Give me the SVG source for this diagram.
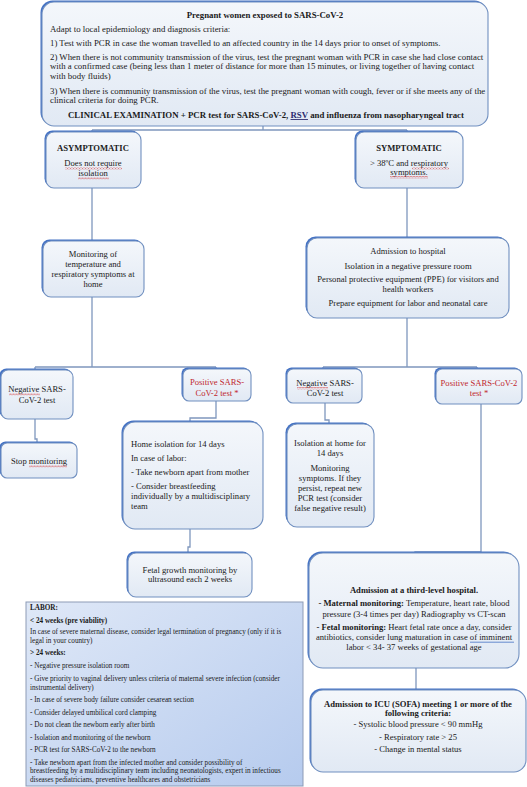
<svg xmlns="http://www.w3.org/2000/svg" width="527" height="787" viewBox="0 0 527 787">
<defs>
<linearGradient id="g" x1="0" y1="0" x2="0" y2="1"><stop offset="0" stop-color="#f4f7fb"/><stop offset="1" stop-color="#e1e9f4"/></linearGradient>
<linearGradient id="lab" x1="0" y1="0" x2="1" y2="1"><stop offset="0" stop-color="#dfe8f7"/><stop offset="1" stop-color="#b6cbee"/></linearGradient>
<pattern id="wavy" width="3" height="2.4" patternUnits="userSpaceOnUse"><path d="M0 2 L1.5 0.4 L3 2" fill="none" stroke="#d02020" stroke-width="0.6"/></pattern>
<style>
.sh{fill:#4472c4}
.box{fill:url(#g);stroke:#7190c0;stroke-width:1.1}
.lab{fill:url(#lab);stroke:#8d9bb6;stroke-width:1}
.con{fill:none;stroke:#7f97bd;stroke-width:1.3}
text{font-family:"Liberation Serif","Times New Roman",serif;fill:#1a1a1a;font-size:8.6px}
.c{text-anchor:middle}
.b{font-weight:bold}
.r{fill:#c0272d}
.t{font-size:8.8px}
.s{font-size:7.2px}
.w{fill:url(#wavy)}
</style>
</defs>
<g id="connectors">
<path class="con" d="M263 126V130M92 130H407M92 130V132M407 130V132"/>
<path class="con" d="M92 188V241M407 188V238"/>
<path class="con" d="M92 297V367M35 367H216M35 367V370M216 367V369"/>
<path class="con" d="M407 318V367M323 367H477M323 367V369M477 367V369"/>
<path class="con" d="M35 419V439H37V443"/>
<path class="con" d="M216 401V418H190V422"/>
<path class="con" d="M325 403V420H329V424"/>
<path class="con" d="M481 404V552H415V553"/>
<path class="con" d="M190 529V547H188V553"/>
<path class="con" d="M416 668V690"/>
</g>
<g id="top">
<rect class="sh" x="40.5" y="0.5" width="446" height="124" rx="12"/>
<rect class="box" x="42" y="2" width="446" height="124" rx="12"/>
<text class="t b c" x="265" y="18">Pregnant women exposed to SARS-CoV-2</text>
<text class="t" x="50" y="32">Adapt to local epidemiology and diagnosis criteria:</text>
<text class="t" x="50" y="46">1) Test with PCR in case the woman travelled to an affected country in the 14 days prior to onset of symptoms.</text>
<text class="t" x="50" y="60">2) When there is not community transmission of the virus, test the pregnant woman with PCR in case she had close contact</text>
<text class="t" x="50" y="69">with a confirmed case (being less than 1 meter of distance for more than 15 minutes, or living together of having contact</text>
<text class="t" x="50" y="79">with body fluids)</text>
<text class="t" x="50" y="94">3) When there is community transmission of the virus, test the pregnant woman with cough, fever or if she meets any of the</text>
<text class="t" x="50" y="103">clinical criteria for doing PCR.</text>
<text class="t b c" x="266" y="118">CLINICAL EXAMINATION + PCR test for SARS-CoV-2, <tspan fill="#2b2b6e" style="text-decoration:underline">RSV</tspan> and influenza from nasopharyngeal tract</text>
</g>
<g id="asymptomatic">
<rect class="sh" x="44.5" y="130.5" width="95" height="56" rx="8"/>
<rect class="box" x="46" y="132" width="95" height="56" rx="8"/>
<text class="b c" x="93" y="151">ASYMPTOMATIC</text>
<text class="c" x="93" y="166">Does not require</text>
<text class="c" x="93" y="176">isolation</text>
<rect class="w" x="65" y="167" width="57" height="2.4"/>
<rect class="w" x="78" y="177" width="31" height="2.4"/>
</g>
<g id="symptomatic">
<rect class="sh" x="354.5" y="130.5" width="107" height="56" rx="8"/>
<rect class="box" x="356" y="132" width="107" height="56" rx="8"/>
<text class="b c" x="409" y="151">SYMPTOMATIC</text>
<text class="c" x="409" y="166">&gt; 38ºC and respiratory</text>
<text class="c" x="409" y="175">symptoms.</text>
<rect class="w" x="412" y="167" width="37" height="2.4"/>
<rect class="w" x="390" y="176" width="38" height="2.4"/>
</g>
<g id="monitoring">
<rect class="sh" x="41.5" y="239.5" width="101" height="56" rx="8"/>
<rect class="box" x="43" y="241" width="101" height="56" rx="8"/>
<text class="c" x="93" y="257">Monitoring of</text>
<text class="c" x="93" y="267">temperature and</text>
<text class="c" x="93" y="277">respiratory symptoms at</text>
<text class="c" x="93" y="287">home</text>
</g>
<g id="admission">
<rect class="sh" x="305.5" y="236.5" width="202" height="80" rx="10"/>
<rect class="box" x="307" y="238" width="202" height="80" rx="10"/>
<text class="c" x="408" y="254">Admission to hospital</text>
<text class="c" x="408" y="269">Isolation in a negative pressure room</text>
<text class="c" x="408" y="282">Personal protective equipment (PPE) for visitors and</text>
<text class="c" x="408" y="292">health workers</text>
<text class="c" x="408" y="306">Prepare equipment for labor and neonatal care</text>
</g>
<g id="neg-left">
<rect class="sh" x="-0.5" y="368.5" width="72" height="49" rx="7"/>
<rect class="box" x="1" y="370" width="72" height="49" rx="7"/>
<text class="c" x="37" y="392">Negative SARS-</text>
<text class="c" x="37" y="403">CoV-2 test</text>
<rect class="w" x="9" y="393" width="31" height="2.4"/>
</g>
<g id="pos-left">
<rect class="sh" x="181.5" y="367.5" width="68" height="32" rx="6"/>
<rect class="box" x="183" y="369" width="68" height="32" rx="6"/>
<text class="c r" x="217" y="385">Positive SARS-</text>
<text class="c r" x="217" y="396">CoV-2 test *</text>
</g>
<g id="neg-right">
<rect class="sh" x="285.5" y="367.5" width="75" height="34" rx="6"/>
<rect class="box" x="287" y="369" width="75" height="34" rx="6"/>
<text class="c" x="325" y="386">Negative SARS-</text>
<text class="c" x="325" y="396">CoV-2 test</text>
<rect class="w" x="297" y="387" width="31" height="2.4"/>
</g>
<g id="pos-right">
<rect class="sh" x="434.5" y="367.5" width="86" height="35" rx="6"/>
<rect class="box" x="436" y="369" width="86" height="35" rx="6"/>
<text class="c r" x="479" y="386">Positive SARS-CoV-2</text>
<text class="c r" x="479" y="396">test *</text>
</g>
<g id="stop">
<rect class="sh" x="-0.5" y="441.5" width="76" height="35" rx="6"/>
<rect class="box" x="1" y="443" width="76" height="35" rx="6"/>
<text class="c" x="39" y="464">Stop monitoring</text>
<rect class="w" x="29" y="465" width="38" height="2.4"/>
</g>
<g id="home-isolation">
<rect class="sh" x="121.5" y="420.5" width="140" height="107" rx="12"/>
<rect class="box" x="123" y="422" width="140" height="107" rx="12"/>
<text x="131" y="447">Home isolation for 14 days</text>
<text x="131" y="461">In case of labor:</text>
<text x="131" y="475">- Take newborn apart from mother</text>
<text x="131" y="489">- Consider breastfeeding</text>
<text x="131" y="499">individually by a multidisciplinary</text>
<text x="131" y="509">team</text>
</g>
<g id="isolation-home">
<rect class="sh" x="285.5" y="422.5" width="87" height="103" rx="10"/>
<rect class="box" x="287" y="424" width="87" height="103" rx="10"/>
<text class="c" x="330" y="446">Isolation at home for</text>
<text class="c" x="330" y="456">14 days</text>
<text class="c" x="330" y="471">Monitoring</text>
<text class="c" x="330" y="481">symptoms. If they</text>
<text class="c" x="330" y="491">persist, repeat new</text>
<text class="c" x="330" y="501">PCR test (consider</text>
<text class="c" x="330" y="511">false negative result)</text>
</g>
<g id="fetal">
<rect class="sh" x="126.5" y="551.5" width="124" height="44" rx="8"/>
<rect class="box" x="128" y="553" width="124" height="44" rx="8"/>
<text class="c" x="190" y="573">Fetal growth monitoring by</text>
<text class="c" x="190" y="582">ultrasound each 2 weeks</text>
</g>
<g id="third-level">
<rect class="sh" x="307.5" y="551.5" width="210" height="115" rx="14"/>
<rect class="box" x="309" y="553" width="210" height="115" rx="14"/>
<text class="c b" x="414" y="593">Admission at a third-level hospital.</text>
<text class="c" x="414" y="606"><tspan class="b">- Maternal monitoring:</tspan> Temperature, heart rate, blood</text>
<text class="c" x="414" y="617">pressure (3-4 times per day) Radiography vs CT-scan</text>
<text class="c" x="414" y="630"><tspan class="b">- Fetal monitoring:</tspan> Heart fetal rate once a day, consider</text>
<text class="c" x="414" y="640">antibiotics, consider lung maturation in case of  imminent</text>
<text class="c" x="414" y="650">labor &lt; 34- 37 weeks of gestational age</text>
<path d="M470 642.2H514" stroke="#4472c4" stroke-width="0.8"/>
</g>
<g id="icu">
<rect class="sh" x="309.5" y="688.5" width="215" height="82" rx="12"/>
<rect class="box" x="311" y="690" width="215" height="82" rx="12"/>
<text class="c b" x="418" y="707">Admission to ICU (SOFA) meeting 1 or more of the</text>
<text class="c b" x="418" y="716">following criteria:</text>
<text class="c" x="418" y="727">- Systolic blood pressure &lt; 90 mmHg</text>
<text class="c" x="418" y="740">- Respiratory rate &gt; 25</text>
<text class="c" x="418" y="752">- Change in mental status</text>
</g>
<g id="labor">
<rect class="lab" x="26" y="602" width="277" height="184"/>
<text class="s b" x="30" y="610">LABOR:</text>
<text class="s b" x="30" y="623">&lt; 24 weeks (pre viability)</text>
<text class="s" x="30" y="634">In case of severe maternal disease, consider legal termination of pregnancy (only if it is</text>
<text class="s" x="30" y="642.5">legal in your country)</text>
<text class="s b" x="30" y="655">&gt; 24 weeks:</text>
<text class="s" x="30" y="668">- Negative pressure isolation room</text>
<text class="s" x="30" y="681">- Give priority to vaginal delivery unless criteria  of maternal severe infection (consider</text>
<text class="s" x="30" y="689.5">instrumental delivery)</text>
<text class="s" x="30" y="702">- In case of severe body failure consider cesarean section</text>
<text class="s" x="30" y="714.5">- Consider delayed umbilical cord clamping</text>
<text class="s" x="30" y="727">- Do not clean the newborn early after birth</text>
<text class="s" x="30" y="739.5">- Isolation and monitoring of the newborn</text>
<text class="s" x="30" y="752">- PCR test for SARS-CoV-2 to the newborn</text>
<text class="s" x="30" y="764.5">- Take newborn apart from the infected mother and consider possibility of</text>
<text class="s" x="30" y="773">breastfeeding by a multidisciplinary team including neonatologists, expert in infectious</text>
<text class="s" x="30" y="781.5">diseases pediatricians, preventive healthcares and obstetricians</text>
</g>
</svg>
